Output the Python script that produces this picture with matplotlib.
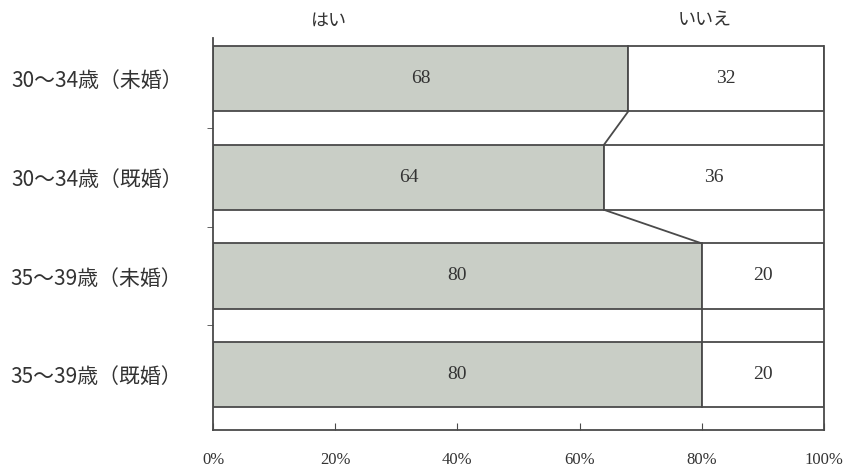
import matplotlib.pyplot as plt
import numpy as np

plt.rcParams['font.family'] = ['Noto Sans CJK JP', 'DejaVu Sans']

categories = ['30～34歳（未婚）', '30～34歳（既婚）', '35～39歳（未婚）', '35～39歳（既婚）']
hai = [68, 64, 80, 80]
iie = [32, 36, 20, 20]
xticks = [0, 20, 40, 60, 80, 100]
xticklabels = ['0%', '20%', '40%', '60%', '80%', '100%']

y = np.arange(len(categories))
h = 0.66

fig = plt.figure(figsize=(8.5, 4.67), dpi=100)
ax = fig.add_axes([0.2506, 0.0792, 0.9694 - 0.2506, 0.9186 - 0.0792])

ax.barh(y, hai, height=h, color='#c9cec6', edgecolor='#4a4a4a', linewidth=1.3)
ax.barh(y, iie, left=hai, height=h, color='white', edgecolor='#4a4a4a', linewidth=1.3)

# lines from bar bottom to the next bar top at the boundary
for i in range(len(categories) - 1):
    ax.plot([hai[i], hai[i + 1]], [y[i] + h / 2, y[i + 1] - h / 2],
            color='#4a4a4a', lw=1.3)

for i in range(len(categories)):
    ax.text(hai[i] / 2, y[i], str(hai[i]), ha='center', va='center',
            fontsize=14, family='Liberation Serif', color='#333333')
    ax.text(hai[i] + iie[i] / 2, y[i], str(iie[i]), ha='center', va='center',
            fontsize=14, family='Liberation Serif', color='#333333')

ax.set_xlim(0, 100)
ax.set_ylim(3.56, -0.41)

ax.set_yticks(y)
ax.set_yticklabels(categories, fontsize=15, color='#333333')
ax.tick_params(axis='y', length=0, pad=22)
ax.set_yticks([0.5, 1.5, 2.5], minor=True)
ax.tick_params(axis='y', which='minor', length=4, direction='out', color='#4a4a4a')

ax.set_xticks(xticks)
ax.set_xticklabels(xticklabels, family='Liberation Serif', fontsize=12, color='#333333')
ax.tick_params(axis='x', direction='in', length=5, pad=16, color='#4a4a4a')

for s in ['left', 'right', 'bottom']:
    ax.spines[s].set_color('#4a4a4a')
    ax.spines[s].set_linewidth(1.3)
ax.spines['top'].set_visible(False)
ax.spines['right'].set_bounds(3.56, -h / 2)

ax.text(19, -0.59, 'はい', ha='center', va='center', fontsize=13, color='#333333')
ax.text(80.5, -0.59, 'いいえ', ha='center', va='center', fontsize=13, color='#333333')

fig.savefig('out.png', dpi=100)
